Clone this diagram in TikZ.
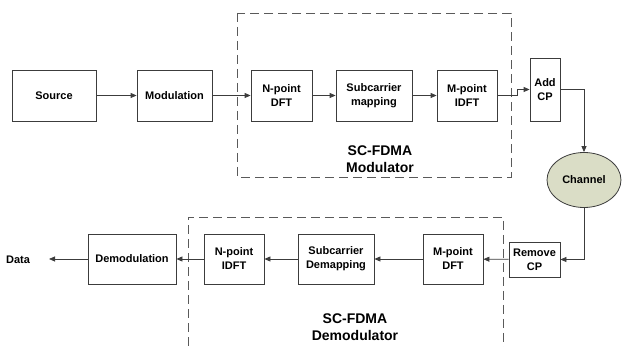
\documentclass[tikz,border=0pt]{standalone}
\usepackage{fontspec}
\setmainfont{Liberation Sans}
\usetikzlibrary{arrows.meta,shapes.geometric}
\definecolor{linegray}{HTML}{3C3C3C}
\definecolor{dashgray}{HTML}{5A5A5A}
\definecolor{chanfill}{HTML}{DADDC6}
\begin{document}
\begin{tikzpicture}[x=1pt,y=-1pt,
  block/.style={draw=linegray,line width=0.8pt,fill=white,inner sep=0pt,
    align=center,font=\bfseries\fontsize{11}{14}\selectfont},
  flow/.style={draw=linegray,line width=0.8pt,-{Triangle[length=6pt,width=5pt]}},
  groupbox/.style={draw=dashgray,line width=0.8pt,dash pattern=on 9pt off 5pt},
  grouplabel/.style={align=center,font=\bfseries\fontsize{14}{16.5}\selectfont}]
\useasboundingbox (0,0) rectangle (622,347);

% dashed frames around the SC-FDMA stages
\draw[groupbox] (237,13) rectangle (511,177);
\draw[groupbox] (188,360) -- (188,217) -- (503,217) -- (503,360);

% transmitter chain
\node[block,minimum width=84pt,minimum height=51pt] (src) at (54,95.5) {Source};
\node[block,minimum width=75pt,minimum height=51pt] (mod) at (174.5,95.5) {Modulation};
\node[block,minimum width=61pt,minimum height=51pt] (ndft) at (281.5,95.5) {N-point\\DFT};
\node[block,minimum width=76pt,minimum height=51pt] (map) at (374,95.5) {Subcarrier\\mapping};
\node[block,minimum width=60pt,minimum height=51pt] (midft) at (467,95.5) {M-point\\IDFT};
\node[block,minimum width=30pt,minimum height=63pt] (addcp) at (545,89.5) {Add\\CP};

% channel
\node[ellipse,draw=linegray,line width=0.8pt,fill=chanfill,minimum width=74pt,
  minimum height=55pt,inner sep=0pt,font=\bfseries\fontsize{11}{14}\selectfont]
  (chan) at (584,180) {Channel};

% receiver chain
\node[block,minimum width=51pt,minimum height=35pt] (rmcp) at (534.5,259.5) {Remove\\CP};
\node[block,minimum width=60pt,minimum height=50pt] (mdft) at (453,259) {M-point\\DFT};
\node[block,minimum width=76pt,minimum height=50pt] (demap) at (336,259) {Subcarrier\\Demapping};
\node[block,minimum width=60pt,minimum height=50pt] (nidft) at (234,259) {N-point\\IDFT};
\node[block,minimum width=88pt,minimum height=50pt] (demod) at (132,259) {Demodulation};
\node[font=\bfseries\fontsize{11}{14}\selectfont] (data) at (18,260) {Data};
\coordinate (dataend) at (49,259);

% group captions
\node[grouplabel] (modlabel) at (380,159) {SC-FDMA\\Modulator};
\node[grouplabel] (demodlabel) at (355,327) {SC-FDMA\\Demodulator};

% connectors
\draw[flow] (src) -- (mod);
\draw[flow] (mod) -- (ndft);
\draw[flow] (ndft) -- (map);
\draw[flow] (map) -- (midft);
\draw[flow] (midft.east) -- (517,95.5) -- (517,89.5) -- (addcp.west);
\draw[flow] (addcp.east) -| (chan.north);
\draw[flow] (chan.south) |- (rmcp.east);
\draw[flow] (rmcp) -- (mdft);
\draw[flow] (mdft) -- (demap);
\draw[flow] (demap) -- (nidft);
\draw[flow] (nidft) -- (demod);
\draw[flow] (demod) -- (dataend);
\end{tikzpicture}
\end{document}
